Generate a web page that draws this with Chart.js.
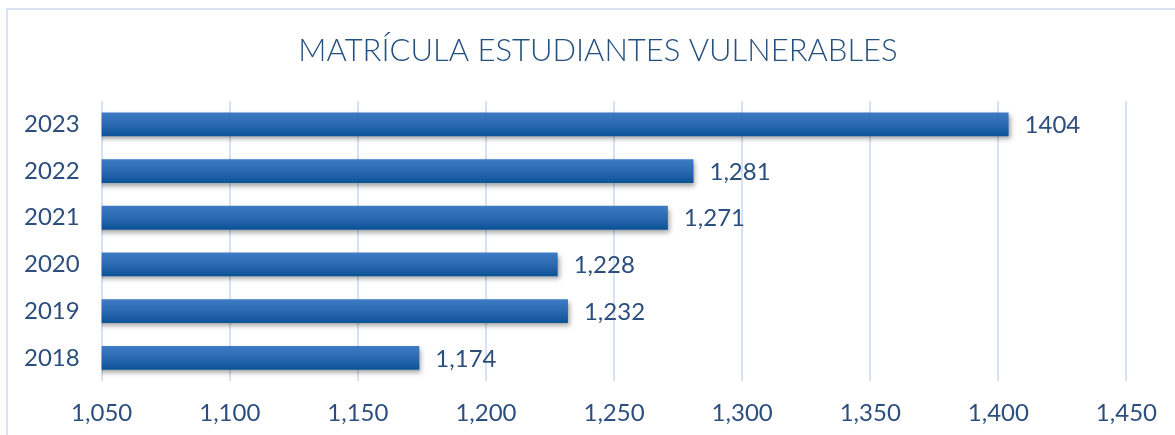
<!DOCTYPE html>
<html>
<head>
<meta charset="utf-8">
<script src="https://cdn.jsdelivr.net/npm/chart.js@4"></script>
<style>
  html, body { margin: 0; padding: 0; background: #fff; }
  #wrap { width: 1175px; height: 435px; position: relative; }
</style>
</head>
<body>
<div id="wrap"><canvas id="chart"></canvas></div>
<script>
const years = ["2023", "2022", "2021", "2020", "2019", "2018"];
const enrolment = [1404, 1281, 1271, 1228, 1232, 1174];
const valueLabels = ["1404", "1,281", "1,271", "1,228", "1,232", "1,174"];
const xMin = 1050, xMax = 1450, xStep = 50;
const chartTitle = "MATRÍCULA ESTUDIANTES VULNERABLES";

const textColor = "#2c4e7e";
const fontFamily = "Lato, 'Open Sans', sans-serif";
const barPct = 0.51;

function barFill(c) {
  const chart = c.chart;
  const y = chart.scales.y;
  if (!y || !chart.chartArea || c.dataIndex == null) return "#1f5fa8";
  const center = y.getPixelForValue(c.dataIndex);
  const half = (chart.chartArea.height / years.length) * barPct / 2;
  const g = chart.ctx.createLinearGradient(0, center - half, 0, center + half);
  g.addColorStop(0, "#3d7bc4");
  g.addColorStop(0.5, "#2b69b3");
  g.addColorStop(1, "#0b5296");
  return g;
}

// outer frame + title, centred on the whole picture like the original
const frame = {
  id: "frame",
  beforeDraw(chart) {
    const ctx = chart.ctx;
    ctx.save();
    ctx.strokeStyle = "#d9e3f1";
    ctx.lineWidth = 2;
    ctx.strokeRect(7, 9, 1200, 500);
    ctx.font = "300 31px " + fontFamily;
    ctx.fillStyle = "#24507f";
    ctx.textAlign = "center";
    ctx.textBaseline = "middle";
    ctx.fillText(chartTitle, 598, 51);
    ctx.restore();
  }
};

const barShadow = {
  id: "barShadow",
  beforeDatasetsDraw(chart) {
    const ctx = chart.ctx;
    ctx.save();
    ctx.shadowColor = "rgba(0,0,0,0.38)";
    ctx.shadowBlur = 5;
    ctx.shadowOffsetX = 2;
    ctx.shadowOffsetY = 3;
  },
  afterDatasetsDraw(chart) {
    chart.ctx.restore();
  }
};

const valueText = {
  id: "valueText",
  afterDatasetsDraw(chart) {
    const ctx = chart.ctx;
    const meta = chart.getDatasetMeta(0);
    ctx.save();
    ctx.font = "24px " + fontFamily;
    ctx.fillStyle = textColor;
    ctx.textAlign = "left";
    ctx.textBaseline = "middle";
    meta.data.forEach((bar, i) => {
      ctx.fillText(valueLabels[i], bar.x + 16, bar.y + 1);
    });
    ctx.restore();
  }
};

new Chart(document.getElementById("chart"), {
  type: "bar",
  data: {
    labels: years,
    datasets: [{
      data: enrolment,
      backgroundColor: barFill,
      borderWidth: 0,
      barPercentage: barPct,
      categoryPercentage: 1
    }]
  },
  plugins: [frame, barShadow, valueText],
  options: {
    indexAxis: "y",
    responsive: true,
    maintainAspectRatio: false,
    animation: false,
    layout: { padding: { left: 2, right: 28, top: 101, bottom: -11 } },
    plugins: {
      legend: { display: false },
      tooltip: { enabled: false },
      title: { display: false }
    },
    scales: {
      x: {
        min: xMin,
        max: xMax,
        ticks: {
          stepSize: xStep,
          color: textColor,
          font: { family: fontFamily, size: 24 },
          padding: 18
        },
        grid: { color: "#d6e2f3", lineWidth: 2, drawTicks: false },
        border: { display: false }
      },
      y: {
        ticks: {
          color: textColor,
          font: { family: fontFamily, size: 24 },
          padding: 22
        },
        grid: { display: false, drawTicks: false },
        border: { display: false }
      }
    }
  }
});
</script>
</body>
</html>
